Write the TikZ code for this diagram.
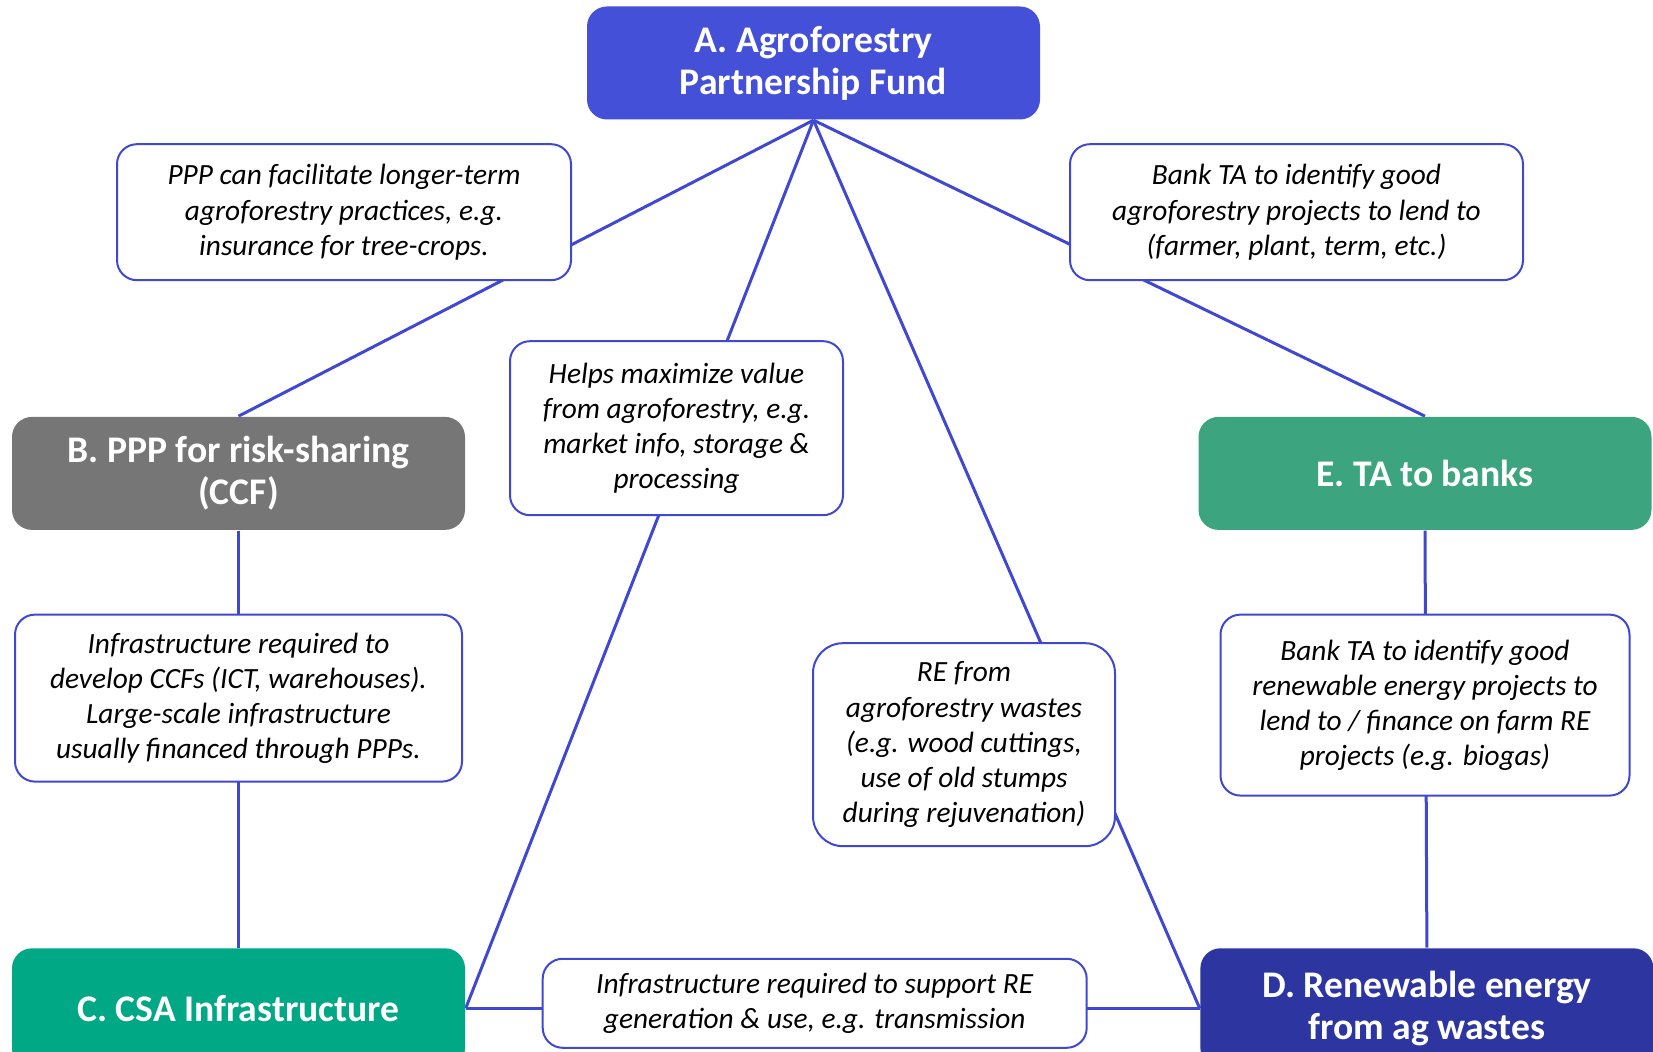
\documentclass[tikz,border=0pt]{standalone}
\usepackage{fontspec}
\setmainfont{Carlito}
\usepackage{tikz}
\usetikzlibrary{positioning, backgrounds}
\definecolor{fundblue}{HTML}{4450D8}
\definecolor{pppgray}{HTML}{767676}
\definecolor{csagreen}{HTML}{00A886}
\definecolor{energynavy}{HTML}{2D36A0}
\definecolor{bankgreen}{HTML}{3CA47F}
\definecolor{linkblue}{HTML}{4048D2}

\begin{document}
\begin{tikzpicture}[
    every node/.style={rounded corners=2mm, align=center, inner sep=1mm},
    hub/.style ={minimum width=45.3mm, minimum height=11.3mm, text=white, font=\fontsize{10.7}{12}\selectfont\bfseries},
    note/.style={draw=linkblue, line width=0.2mm, fill=white, text=black, font=\fontsize{8.35}{10}\selectfont\itshape},
    link/.style={draw=linkblue, line width=0.3mm}
]
\useasboundingbox (0,0) rectangle (165.3mm,-105.2mm);

% ========== ROW 0: Fund ==========
\node[hub, fill=fundblue] (fund) at (81.35mm,-6.3mm) {A. Agroforestry\\Partnership Fund};

% ========== ROW 1: upper notes ==========
\node[note, minimum width=45.4mm, minimum height=13.6mm, below=2.3mm of fund, xshift=-46.95mm]
    (pppnote) {PPP can facilitate longer-term\\agroforestry practices, e.g.\\insurance for tree-crops.};
\node[note, minimum width=45.3mm, minimum height=13.6mm, below=2.3mm of fund, xshift=48.3mm]
    (banknote) {Bank TA to identify good\\agroforestry projects to lend to\\(farmer, plant, term, etc.)};
\node[note, minimum width=33.3mm, minimum height=17.4mm, below=22mm of fund, xshift=-13.7mm]
    (valuenote) {Helps maximize value\\from agroforestry, e.g.\\market info, storage \&\\processing};

% ========== ROW 2: PPP and bank TA ==========
\node[hub, fill=pppgray, below=29.6mm of fund, xshift=-57.5mm] (ppp) {B. PPP for risk-sharing\\(CCF)};
\node[hub, fill=bankgreen, below=29.6mm of fund, xshift=61.15mm] (bank) {E. TA to banks};

% ========== ROW 3: middle notes ==========
\node[note, minimum width=44.7mm, minimum height=16.7mm, below=8.3mm of ppp]
    (ccfnote) {Infrastructure required to\\develop CCFs (ICT, warehouses).\\Large-scale infrastructure\\usually financed through PPPs.};
\node[note, minimum width=40.9mm, minimum height=18.1mm, below=8.3mm of bank]
    (renote) {Bank TA to identify good\\renewable energy projects to\\lend to / finance on farm RE\\projects (e.g. biogas)};
\node[note, rounded corners=3mm, minimum width=30.2mm, minimum height=20.3mm, below=52.2mm of fund, xshift=15.05mm]
    (wastenote) {RE from\\agroforestry wastes\\(e.g. wood cuttings,\\use of old stumps\\during rejuvenation)};

% ========== ROW 4: CSA and energy ==========
\node[hub, fill=csagreen, minimum height=12mm, below=41.7mm of ppp] (csa) {C. CSA Infrastructure};
\node[hub, fill=energynavy, minimum height=12mm, right=73.4mm of csa] (energy) {D. Renewable energy\\from ag wastes};
\node[note, minimum width=54.4mm, minimum height=8.9mm, right=7.6mm of csa, yshift=0.5mm]
    (gridnote) {Infrastructure required to support RE\\generation \& use, e.g. transmission};

% ========== LINKS ==========
\begin{scope}[on background layer]
% Fund -> all four
\draw[link] (fund.south) -- (ppp.north);
\draw[link] (fund.south) -- (bank.north);
\draw[link] (fund.south) -- (csa.east);
\draw[link] (fund.south) -- (energy.west);
% side columns
\draw[link] (ppp.south)  -- (csa.north);
\draw[link] (bank.south) -- (energy.north);
% bottom row
\draw[link] (csa.east) -- (energy.west);
\end{scope}

\end{tikzpicture}
\end{document}
